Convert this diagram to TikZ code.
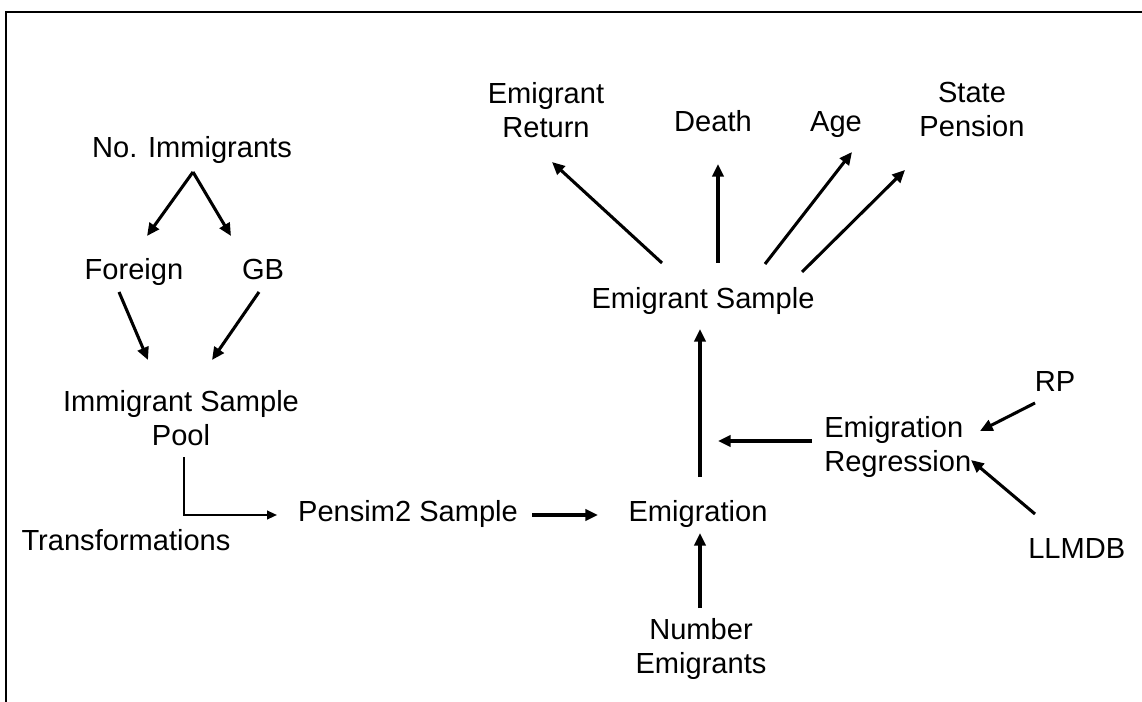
\documentclass[tikz,border=0pt]{standalone}
\usepackage{fontspec}
\setmainfont{Liberation Sans}
\usetikzlibrary{arrows.meta}
\begin{document}
\begin{tikzpicture}[x=0.75pt,y=-0.75pt,
  lbl/.style={inner sep=0pt, font=\fontsize{21.8}{25.5}\selectfont, align=center},
  arr/.style={line width=2.3pt, -{Triangle[length=9.5pt,width=8.5pt]}},
  thinarr/.style={line width=1.5pt, -{Triangle[length=7.5pt,width=6.5pt]}},
]
\useasboundingbox (0,0) rectangle (1142,702);
\draw[line width=1.1pt] (6,702) -- (6,12) -- (1142,12);

% nodes
\node[lbl, anchor=base] (noimm) at (192,158) {No. Immigrants};
\node[lbl, anchor=base] (foreign) at (134,280) {Foreign};
\node[lbl, anchor=base] (gb) at (263,280) {GB};
\node[lbl, anchor=north] (pool) at (181,390) {Immigrant Sample\\Pool};
\node[lbl, anchor=base] (trans) at (126,550) {Transformations};
\node[lbl, anchor=base] (pensim) at (408,521) {Pensim2 Sample};
\node[lbl, anchor=base] (emig) at (698,521) {Emigration};
\node[lbl, anchor=north] (numem) at (701,618) {Number\\Emigrants};
\node[lbl, anchor=base] (emsamp) at (703,308) {Emigrant Sample};
\node[lbl, anchor=north] (emret) at (546,82) {Emigrant\\Return};
\node[lbl, anchor=base] (death) at (713,132) {Death};
\node[lbl, anchor=base] (age) at (836,132) {Age};
\node[lbl, anchor=north] (statep) at (972,82) {State\\Pension};
\node[lbl, anchor=north west, align=left] (emreg) at (824,416) {Emigration\\Regression};
\node[lbl, anchor=base] (rp) at (1055,391) {RP};
\node[lbl, anchor=base west] (llmdb) at (1028,558) {LLMDB};

% connector end points
\coordinate (c1) at (193,172);
\coordinate (c2) at (147,236);
\coordinate (c3) at (231,236);
\coordinate (c4) at (119,292);
\coordinate (c5) at (148,360);
\coordinate (c6) at (259,292);
\coordinate (c7) at (212,360);
\coordinate (c8) at (184,457);
\coordinate (c9) at (277,515);
\coordinate (c10) at (532,515);
\coordinate (c11) at (598,515);
\coordinate (c12) at (700,608);
\coordinate (c13) at (700,533);
\coordinate (c14) at (700,477);
\coordinate (c15) at (700,329);
\coordinate (c16) at (812,441);
\coordinate (c17) at (718,441);
\coordinate (c18) at (1035,403);
\coordinate (c19) at (980,431);
\coordinate (c20) at (1035,514);
\coordinate (c21) at (971,460);
\coordinate (c22) at (662,263);
\coordinate (c23) at (552,162);
\coordinate (c24) at (718,263);
\coordinate (c25) at (718,164);
\coordinate (c26) at (765,264);
\coordinate (c27) at (852,152);
\coordinate (c28) at (802,272);
\coordinate (c29) at (905,170);

\draw[arr] (c1) -- (c2);
\draw[arr] (c1) -- (c3);
\draw[arr] (c4) -- (c5);
\draw[arr] (c6) -- (c7);
\draw[thinarr] (c8) |- (c9);
\draw[arr] (c10) -- (c11);
\draw[arr] (c12) -- (c13);
\draw[arr] (c14) -- (c15);
\draw[arr] (c16) -- (c17);
\draw[arr] (c18) -- (c19);
\draw[arr] (c20) -- (c21);
\draw[arr] (c22) -- (c23);
\draw[arr] (c24) -- (c25);
\draw[arr] (c26) -- (c27);
\draw[arr] (c28) -- (c29);
\end{tikzpicture}
\end{document}
